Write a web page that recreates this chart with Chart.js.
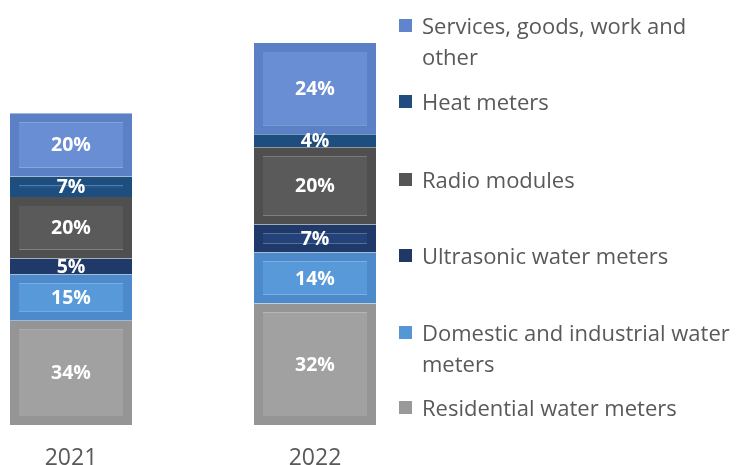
<!DOCTYPE html>
<html><head><meta charset="utf-8">
<script src="https://cdn.jsdelivr.net/npm/chart.js@4"></script>
<style>
html,body{margin:0;padding:0;background:#fff;}
#wrap{position:relative;width:738px;height:465px;overflow:hidden;}
#c{position:absolute;left:0;top:0;}
#legend{position:absolute;left:0;top:0;width:738px;height:465px;font-family:"Open Sans",Lato,sans-serif;font-size:22px;color:#595959;}
.item{position:absolute;left:399px;width:339px;display:flex;align-items:flex-start;line-height:31px;}
.sw{width:13px;height:13px;margin-top:9px;margin-right:10px;flex:none;}
.tx{white-space:pre;}
</style></head>
<body><div id="wrap"><canvas id="c" width="738" height="465"></canvas><div id="legend"></div></div>
<script>
// ---- data (bottom of stack first) ----
const years = ['2021', '2022'];
const seriesNames = ['Residential water meters', 'Domestic and industrial water meters', 'Ultrasonic water meters', 'Radio modules', 'Heat meters', 'Services, goods, work and other'];
const residential = [27.3, 31.8];
const domestic    = [12.1, 13.4];
const ultrasonic  = [4.2, 7.3];
const radio       = [16.1, 20.2];
const heat        = [5.4, 3.4];
const services    = [16.5, 23.9];
const residentialPct = ['34%', '32%'];
const domesticPct    = ['15%', '14%'];
const ultrasonicPct  = ['5%', '7%'];
const radioPct       = ['20%', '20%'];
const heatPct        = ['7%', '4%'];
const servicesPct    = ['20%', '24%'];
const legendText = ['Residential water meters', 'Domestic and industrial water\nmeters', 'Ultrasonic water meters', 'Radio modules', 'Heat meters', 'Services, goods, work and\nother'];

// ---- styles ----
const fillColors   = ['#a1a1a1', '#5899da', '#24427a', '#5a5a5a', '#22568a', '#6a8ed3'];
const borderColors = ['#959595', '#4d8acb', '#1f3968', '#4f4f4f', '#1e4e80', '#5b80c6'];
const swatchColors = ['#999999', '#5597d5', '#1f3866', '#555555', '#1f4e7e', '#6185cc'];
const legendTops   = [391.5, 316.5, 239.5, 163.5, 85.5, 9.5];

const values = [residential, domestic, ultrasonic, radio, heat, services];
const pcts = [residentialPct, domesticPct, ultrasonicPct, radioPct, heatPct, servicesPct];

const datasets = values.map((v, i) => ({
  label: seriesNames[i],
  data: v,
  pctLabels: pcts[i],
  backgroundColor: fillColors[i],
  borderColor: borderColors[i],
  borderWidth: 9,
  borderSkipped: false,
  clip: false,
  barPercentage: 1,
  categoryPercentage: 0.5
}));

const labelPlugin = {
  id: 'segLabels',
  afterDatasetsDraw(chart) {
    const ctx = chart.ctx;
    ctx.save();
    ctx.fillStyle = '#ffffff';
    ctx.font = 'bold 19.5px "Open Sans", Lato, sans-serif';
    ctx.textAlign = 'center';
    ctx.textBaseline = 'middle';
    chart.data.datasets.forEach((ds, di) => {
      const meta = chart.getDatasetMeta(di);
      meta.data.forEach((el, j) => {
        ctx.fillText(ds.pctLabels[j], el.x, (el.y + el.base) / 2 + 1);
      });
    });
    ctx.restore();
  }
};

new Chart(document.getElementById('c'), {
  type: 'bar',
  data: { labels: years, datasets },
  options: {
    responsive: false,
    animation: false,
    layout: { padding: { left: 71, right: 423, top: 24, bottom: -27 } },
    plugins: { legend: { display: false }, tooltip: { enabled: false } },
    scales: {
      x: {
        stacked: true,
        offset: false,
        grid: { display: false, drawTicks: false },
        border: { display: false },
        ticks: { color: '#595959', padding: 22, font: { family: '"Open Sans", Lato, sans-serif', size: 23, lineHeight: 1 } }
      },
      y: {
        stacked: true,
        display: false,
        min: 0,
        max: 105
      }
    }
  },
  plugins: [labelPlugin]
});

// HTML legend built from the series
const legend = document.getElementById('legend');
seriesNames.forEach((name, i) => {
  const item = document.createElement('div');
  item.className = 'item';
  item.style.top = legendTops[i] + 'px';
  const sw = document.createElement('div');
  sw.className = 'sw';
  sw.style.background = swatchColors[i];
  const tx = document.createElement('div');
  tx.className = 'tx';
  tx.textContent = legendText[i];
  item.appendChild(sw);
  item.appendChild(tx);
  legend.appendChild(item);
});
</script>
</body></html>
